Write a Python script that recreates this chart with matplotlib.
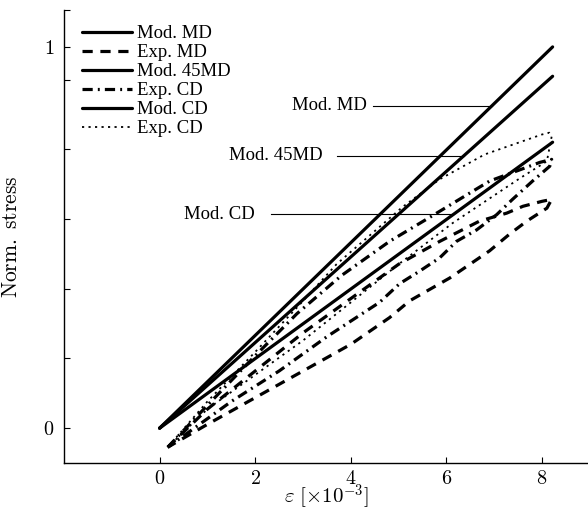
import numpy as np
import matplotlib
matplotlib.use("Agg")
import matplotlib.pyplot as plt

plt.rcParams['mathtext.fontset'] = 'cm'
plt.rcParams['font.family'] = ['Liberation Serif', 'DejaVu Serif']

# model lines: end strain and normalised end stress
eps_end = 8.22
mod_md = 1.0
mod_45md = 0.923
mod_cd = 0.75

# experiment loops (loading branch, then unloading branch)
expmd_x = [0.17, 1, 2, 3, 4, 5, 5.86, 6.69, 7.26, 7.6, 8.0, 8.2,
           8.1, 7.68, 7.32, 6.9, 6.07, 5.23, 4.81, 4, 3, 2, 1, 0.17]
expmd_y = [-0.05, 0.05, 0.15, 0.25, 0.34, 0.43, 0.49, 0.543, 0.564, 0.582, 0.595, 0.60,
           0.577, 0.543, 0.509, 0.465, 0.394, 0.334, 0.29, 0.22, 0.15, 0.08, 0.01, -0.05]

expcd_x = [0.17, 1, 2, 2.87, 3.8, 4.81, 5.65, 6.9, 7.95, 8.2,
           8.16, 7.8, 7.38, 7.05, 6.63, 6.21, 5.86, 5.44, 5.02, 4.6, 3.5, 2.5, 1.5, 0.17]
expcd_y = [-0.05, 0.06, 0.19, 0.30, 0.40, 0.49, 0.553, 0.648, 0.697, 0.705,
           0.687, 0.648, 0.60, 0.56, 0.52, 0.49, 0.447, 0.412, 0.379, 0.33, 0.24, 0.15, 0.07, -0.05]

exp45_x = [0.17, 1, 2, 2.87, 3.7, 5.08, 5.86, 6.8, 7.99, 8.15, 8.2,
           8.1, 7.53, 6.13, 5, 4, 3, 2, 1, 0.17]
exp45_y = [-0.05, 0.07, 0.2, 0.316, 0.43, 0.58, 0.653, 0.718, 0.77, 0.775, 0.765,
           0.70, 0.655, 0.538, 0.43, 0.33, 0.23, 0.14, 0.05, -0.05]

# labels pointing at the model lines: (text, stress level, text end, line start)
pointers = [("Mod. MD", mod_md, 0.846, 4.33, 4.46),
            ("Mod. 45MD", mod_45md, 0.715, 3.41, 3.70),
            ("Mod. CD", mod_cd, 0.561, 1.99, 2.34)]

xticks = [0, 2, 4, 6, 8]
ystep = 0.1828
yticks = [ystep * k for k in range(7)] + [1.0]

fig = plt.figure(figsize=(5.88, 5.12), dpi=100)
ax = fig.add_axes([64 / 588, 49 / 512, 524 / 588, 453 / 512])

lw = 2.3
ax.plot([0, eps_end], [0, mod_md], color='k', lw=lw, label='Mod. MD', solid_capstyle='round')
ax.plot(expmd_x, expmd_y, color='k', lw=lw, ls=(0, (3.2, 2.4)), label='Exp. MD')
ax.plot([0, eps_end], [0, mod_45md], color='k', lw=lw, label='Mod. 45MD', solid_capstyle='round')
ax.plot(expcd_x, expcd_y, color='k', lw=lw, ls=(0, (3.2, 1.6, 0.6, 1.6)), label='Exp. CD')
ax.plot([0, eps_end], [0, mod_cd], color='k', lw=lw, label='Mod. CD', solid_capstyle='round')
ax.plot(exp45_x, exp45_y, color='k', lw=1.3, ls=(0, (1.2, 2.4)), label='Exp. CD')

for name, top, ylev, xtxt, xstart in pointers:
    xend = ylev / (top / eps_end)
    ax.plot([xstart, xend], [ylev, ylev], color='k', lw=0.8)
    ax.text(xtxt, ylev, name, ha='right', va='center', fontsize=13.5)

ax.set_xlim(-2.0, 8.96)
ax.set_ylim(-0.0914, 6 * ystep)
ax.set_xticks(xticks)
ax.set_xticklabels(['$%d$' % t for t in xticks])
ax.set_yticks(yticks)
ax.set_yticklabels(['$0$', '', '', '', '', '', '', '$1$'])
ax.tick_params(direction='in', length=4.5, width=0.8, labelsize=14.5)
ax.tick_params(axis='x', pad=5)
ax.tick_params(axis='y', pad=7)

ax.spines['top'].set_visible(False)
ax.spines['right'].set_visible(False)
for s in ['left', 'bottom']:
    ax.spines[s].set_linewidth(1.0)

ax.set_xlabel(r'$\varepsilon\ [\times 10^{-3}]$', fontsize=15)
ax.xaxis.set_label_coords(0.5, -0.042)
ax.set_ylabel(r'$\mathrm{Norm.\ stress}$', fontsize=15.5)
ax.yaxis.set_label_coords(-0.08, 0.5)

ax.legend(loc='upper left', bbox_to_anchor=(82 / 588, 487 / 512), bbox_transform=fig.transFigure,
          frameon=False, fontsize=13.5, handlelength=2.67, handletextpad=0.27,
          labelspacing=0.1, borderpad=0, borderaxespad=0)

fig.savefig('out.png', dpi=100)
